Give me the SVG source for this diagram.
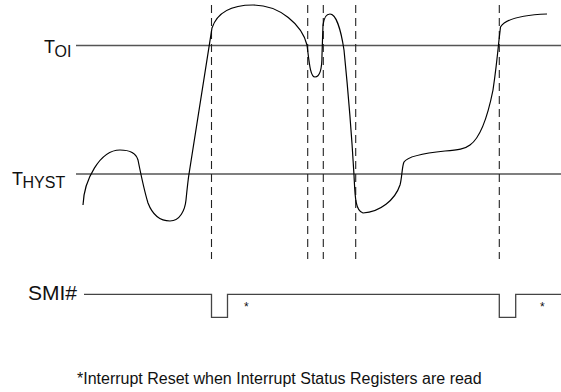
<svg xmlns="http://www.w3.org/2000/svg" width="561" height="392" viewBox="0 0 561 392">
<style>
.lbl{font-family:"Liberation Sans",Arial,sans-serif;fill:#111}
.thr{stroke:#555;stroke-width:1.3;fill:none}
.dash{stroke:#222;stroke-width:1.1;stroke-dasharray:8,5;fill:none}
.curve{stroke:#000;stroke-width:1.2;fill:none}
.sig{stroke:#444;stroke-width:1.3;fill:none}
</style>
<rect width="561" height="392" fill="#fff"/>
<g id="labels">
<g id="toi"><text class="lbl" x="44" y="52.5" font-size="18">T<tspan dx="-0.5" dy="4.2" font-size="16">OI</tspan></text></g>
<g id="thyst"><text class="lbl" x="12" y="185" font-size="18">T<tspan dx="-0.5" dy="2.7" font-size="16">HYST</tspan></text></g>
<g id="smi"><text class="lbl" x="28" y="300" font-size="21">SMI#</text></g>
</g>
<g id="connectors">
<line class="thr" x1="76" y1="45.5" x2="561" y2="45.5"/>
<line class="thr" x1="76" y1="174" x2="561" y2="174"/>
<line class="dash" x1="211.5" y1="5" x2="211.5" y2="259"/>
<line class="dash" x1="307.7" y1="5" x2="307.7" y2="259"/>
<line class="dash" x1="323.3" y1="5" x2="323.3" y2="259"/>
<line class="dash" x1="355.7" y1="5" x2="355.7" y2="259"/>
<line class="dash" x1="499.3" y1="5" x2="499.3" y2="259"/>
</g>
<g id="temperature">
<path class="curve" d="M83,205 C84,180 100,150 120,150 C130,150 136,153 138,160 C140,170 144,190 148,203 C153,216 161,221 170,221 C180,221 185,210 186,200 C187,190 188,180 189,174 L212,28 C218,10 235,5 253,5 C280,5 302,25 307,45 C309,60 310,77 315,77 C320,77 322,68 322,55 L323,25 C324,17 327,14 330,14 C336,14 341,30 344,50 C348,90 352,140 354,175 C355,195 355,211 363,213 C380,212 395,200 400,185 C402,178 402,166 404,162 C408,156 425,153 445,151 C458,150 465,149 470,145 C480,138 488,115 493,90 C496,70 498,50 499,40 L500.5,27 C505,20 520,15 547,14"/>
</g>
<g id="smi-signal">
<path class="sig" d="M84,294.3 H211.5 V317.3 H227.5 V294.3 H499.3 V317.3 H515.7 V294.3 H561"/>
<text class="lbl" x="244" y="311" font-size="12">*</text>
<text class="lbl" x="540" y="311" font-size="12">*</text>
</g>
<g id="footnote">
<text class="lbl" x="77" y="384" font-size="16">*Interrupt Reset when Interrupt Status Registers are read</text>
</g>
</svg>
